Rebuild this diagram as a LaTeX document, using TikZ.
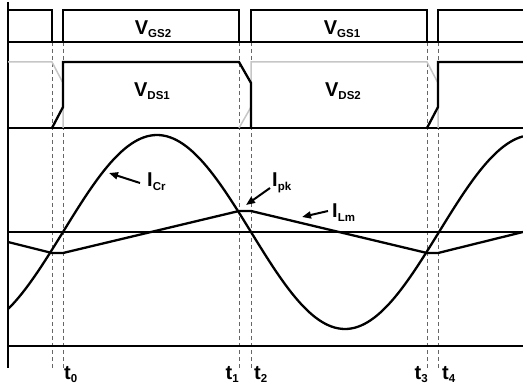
\documentclass[tikz,border=0pt]{standalone}
\usepackage{fontspec}
\setmainfont{Liberation Sans}
\usetikzlibrary{arrows.meta}
\newcommand\wlab[2]{{\fontsize{20}{21}\selectfont #1\raisebox{-3.5pt}{\fontsize{11.5}{12}\selectfont #2}}}
\begin{document}
\begin{tikzpicture}[x=1pt,y=-1pt,
  wave/.style={line width=2.3pt,line join=miter},
  axisline/.style={line width=2.1pt},
  ghost/.style={line width=1.5pt,color=gray!45},
  guide/.style={line width=0.9pt,color=gray!80!black,dash pattern=on 4pt off 3pt},
  lab/.style={inner sep=0pt,font=\bfseries},
  pointer/.style={line width=2pt,-{Triangle[length=9pt,width=7pt]}}]
\useasboundingbox (0,0) rectangle (523,385);
% dashed time guides
\foreach \t in {52,63,239,251,427,438}{
  \draw[guide] (\t,42) -- (\t,368);
}
% axes and baselines
\draw[axisline] (8,2) -- (8,368);
\draw[axisline] (8,42) -- (523,42);
\draw[axisline] (8,128) -- (523,128);
\draw[axisline] (8,232) -- (523,232);
\draw[axisline] (8,346) -- (523,346);
% VGS
\draw[wave] (8,10) -- (52,10) -- (52,42);
\draw[wave] (63,42) -- (63,10) -- (239,10) -- (239,42);
\draw[wave] (251,42) -- (251,10) -- (427,10) -- (427,42);
\draw[wave] (438,42) -- (438,10) -- (523,10);
% VDS2 (grey)
\draw[ghost] (8,62) -- (52,62) -- (63,83) -- (63,128);
\draw[ghost] (239,128) -- (251,107) -- (251,62) -- (427,62) -- (438,83) -- (438,128);
% VDS1 (black)
\draw[wave] (52,128) -- (63,107) -- (63,62) -- (239,62) -- (251,83) -- (251,128);
\draw[wave] (427,128) -- (438,107) -- (438,62) -- (523,62);
% I_Lm
\draw[wave] (8,242) -- (52,253) -- (63,253) -- (239,211) -- (251,211) -- (427,253) -- (438,253) -- (523,232);
% I_Cr
\draw[wave] plot[domain=8:523,samples=160,smooth] (\x,{232-97*sin((\x-63)/376*360)});
% labels
\node[lab] (vgs2) at (153,29) {\wlab{V}{GS2}};
\node[lab] (vgs1) at (342,29) {\wlab{V}{GS1}};
\node[lab] (vds1) at (152,91) {\wlab{V}{DS1}};
\node[lab] (vds2) at (343,91) {\wlab{V}{DS2}};
\node[lab,anchor=base west] (icr) at (147,187) {\wlab{I}{Cr}};
\node[lab,anchor=base west] (ipk) at (272,187) {\wlab{I}{pk}};
\node[lab,anchor=base west] (ilm) at (332,218) {\wlab{I}{Lm}};
\coordinate (crtip) at (109,173);
\coordinate (pktip) at (246,205);
\coordinate (lmtip) at (302,217);
\draw[pointer] (140,183) -- (crtip);
\draw[pointer] (270,188) -- (pktip);
\draw[pointer] (328,211) -- (lmtip);
% time labels
\node[lab,anchor=base west] (t0) at (64,379) {\wlab{t}{0}};
\node[lab,anchor=base east] (t1) at (239,379) {\wlab{t}{1}};
\node[lab,anchor=base west] (t2) at (254,379) {\wlab{t}{2}};
\node[lab,anchor=base east] (t3) at (428,379) {\wlab{t}{3}};
\node[lab,anchor=base west] (t4) at (442,379) {\wlab{t}{4}};
\end{tikzpicture}
\end{document}
